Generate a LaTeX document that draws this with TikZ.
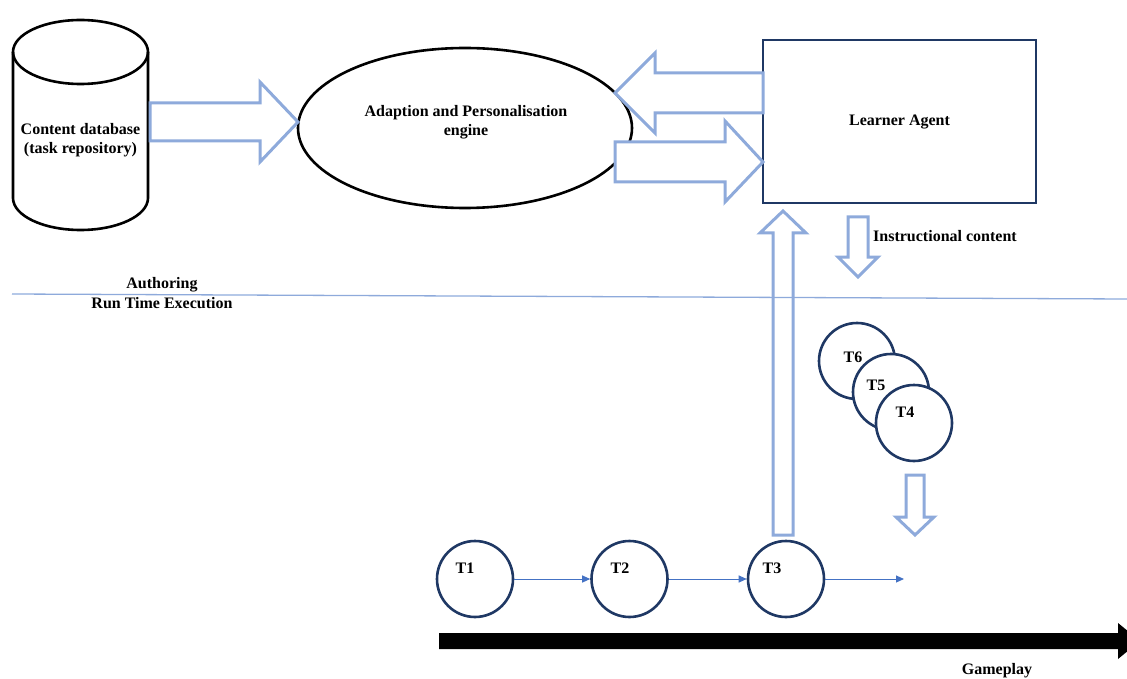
\documentclass[tikz,border=0pt]{standalone}
\usepackage{fontspec}
\setmainfont{Liberation Serif}
\usetikzlibrary{arrows.meta,shapes.geometric}
\definecolor{paleblue}{HTML}{8EAADB}
\definecolor{flowblue}{HTML}{4472C4}
\definecolor{navy}{HTML}{1F3864}
\begin{document}
\begin{tikzpicture}[x=1pt,y=-1pt,
  lbl/.style={font=\fontsize{16}{19}\selectfont\bfseries, inner sep=0pt, align=center},
  blockarr/.style={draw=paleblue, line width=3pt, fill=white, line join=miter},
  task/.style={circle, draw=navy, line width=2.6pt, fill=white, minimum size=76pt, inner sep=0pt},
  flow/.style={draw=flowblue, line width=1pt, -{Triangle[length=8pt,width=7pt]}},
]
\useasboundingbox (0,0) rectangle (1127,679);
\clip (0,0) rectangle (1127,679);

% content database (cylinder); y grows downwards, so angle 90 is the lower side
\draw[line width=2.6pt, fill=white]
  (13,52) -- (13,198) arc[start angle=180, end angle=0, x radius=67.5, y radius=32]
  -- (148,52) arc[start angle=0, end angle=-180, x radius=67.5, y radius=32] -- cycle;
\draw[line width=2.6pt] (13,52) arc[start angle=180, end angle=0, x radius=67.5, y radius=32];
\node[lbl] (db) at (80.5,140) {Content database\\(task repository)};

% adaptation engine
\node[draw, ellipse, line width=2.6pt, minimum width=334pt, minimum height=160pt, inner sep=0pt] (engine) at (465,128) {};
\node[lbl] (enginetext) at (466,122) {Adaption and Personalisation\\engine};

% learner agent
\node[draw=navy, line width=1.3pt, minimum width=273pt, minimum height=163pt, inner sep=0pt] (agent) at (899.5,121.5) {};
\node[lbl] at (agent.center) {Learner Agent};

% block arrows between the top components
\draw[blockarr] (150,103) -- (260,103) -- (260,82) -- (298,122) -- (260,162) -- (260,141) -- (150,141) -- cycle;
\draw[blockarr] (763,73) -- (655,73) -- (655,53) -- (615,93) -- (655,133) -- (655,113) -- (763,113) -- cycle;
\draw[blockarr] (615,142) -- (725,142) -- (725,121) -- (763,162) -- (725,202) -- (725,182) -- (615,182) -- cycle;

% feedback from run time up to the learner agent
\draw[blockarr] (773,535) -- (773,233) -- (760,233) -- (783,211) -- (806,233) -- (793,233) -- (793,535) -- cycle;

% instructional content
\draw[blockarr] (848,217) -- (868,217) -- (868,257) -- (878,257) -- (858,277) -- (838,257) -- (848,257) -- cycle;
\node[lbl, anchor=west] (instr) at (873,236) {Instructional content};

% authoring / run time boundary
\draw[paleblue, line width=1.3pt] (12,294) -- (1127,299);
\node[lbl] (authoring) at (162,285) {Authoring};
\node[lbl] (runtime) at (162,303) {Run Time Execution};

% queued tasks
\node[task] (t6) at (857,361) {};
\node[lbl] at (853,357) {T6};
\node[task] (t5) at (891,392) {};
\node[lbl] at (876,385) {T5};
\node[task] (t4) at (914,423) {};
\node[lbl] at (905,412) {T4};

\draw[blockarr] (906,475) -- (924,475) -- (924,517) -- (934,517) -- (915,535) -- (896,517) -- (906,517) -- cycle;

% task sequence
\node[task] (t1) at (475,579) {};
\node[lbl] at (465,568) {T1};
\node[task] (t2) at (629.5,579) {};
\node[lbl] at (620,568) {T2};
\node[task] (t3) at (786,579) {};
\node[lbl] at (772,568) {T3};
\coordinate (next) at (904,579);
\draw[flow] (t1) -- (t2);
\draw[flow] (t2) -- (t3);
\draw[flow] (t3) -- (next);

% gameplay timeline
\fill[black] (439,633) -- (1118,633) -- (1118,623) -- (1140,641) -- (1118,659) -- (1118,649) -- (439,649) -- cycle;
\node[lbl] (gameplay) at (997,671) {Gameplay};
\end{tikzpicture}
\end{document}
